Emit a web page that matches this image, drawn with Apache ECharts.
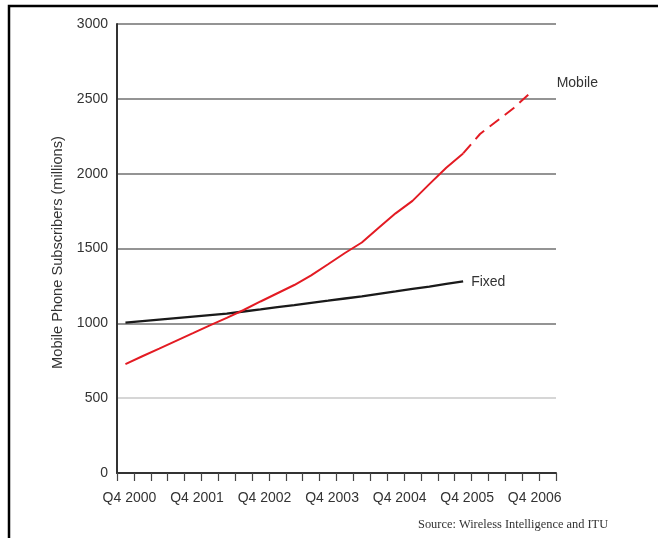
<!DOCTYPE html>
<html>
<head>
<meta charset="utf-8">
<script src="https://cdn.jsdelivr.net/npm/echarts@6/dist/echarts.min.js"></script>
<style>
html,body{margin:0;padding:0;background:#fff;}
#chart{width:658px;height:538px;}
</style>
</head>
<body>
<div id="chart"></div>
<script>
// Quarters (category axis)
const quarters = [
  'Q4 2000','Q1 2001','Q2 2001','Q3 2001',
  'Q4 2001','Q1 2002','Q2 2002','Q3 2002',
  'Q4 2002','Q1 2003','Q2 2003','Q3 2003',
  'Q4 2003','Q1 2004','Q2 2004','Q3 2004',
  'Q4 2004','Q1 2005','Q2 2005','Q3 2005',
  'Q4 2005','Q1 2006','Q2 2006','Q3 2006',
  'Q4 2006','Q1 2007'
];
// Mobile subscribers (millions) - actual
const mobileActual = [
  728, 780, 831, 883, 934, 986, 1037, 1089,
  1146, 1201, 1256, 1321, 1395, 1470, 1540, 1638,
  1735, 1818, 1930, 2040, 2135,
  null, null, null, null, null
];
// Mobile subscribers (millions) - projection (dashed)
const mobileProjected = [
  null, null, null, null, null, null, null, null,
  null, null, null, null, null, null, null, null,
  null, null, null, null, 2135,
  2265, 2352, 2439, 2542, null
];
// Fixed line subscribers (millions)
const fixedValues = [
  1005, 1015, 1025, 1035, 1045, 1055, 1065, 1079,
  1093, 1108, 1122, 1137, 1151, 1166, 1180, 1197,
  1213, 1230, 1246, 1263, 1280,
  null, null, null, null, null
];
const yAxisTitle = 'Mobile Phone Subscribers (millions)';
const sourceText = 'Source: Wireless Intelligence and ITU';

const chart = echarts.init(document.getElementById('chart'), null, {renderer: 'canvas'});
const font = 'Liberation Sans, Arial, Helvetica, sans-serif';
const red = '#e31b23';

chart.setOption({
  animation: false,
  backgroundColor: '#fff',
  title: {
    text: sourceText,
    left: 418, top: 519,
    padding: 0,
    textStyle: {fontFamily: 'Liberation Serif, Times New Roman, serif', fontSize: 12.4, fontWeight: 'normal', color: '#333'}
  },
  graphic: [
    {type: 'polyline', shape: {points: [[9, 540], [9, 6], [660, 6]]}, style: {stroke: '#000', lineWidth: 2.5, fill: null}, z: 100}
  ],
  grid: {left: 117, right: 102, top: 24, bottom: 65, containLabel: false},
  xAxis: {
    type: 'category',
    data: quarters,
    boundaryGap: true,
    axisLine: {lineStyle: {color: '#333', width: 2}},
    axisTick: {show: true, interval: 0, length: 8, lineStyle: {color: '#444', width: 1.2}},
    axisLabel: {interval: 3, margin: 18, fontFamily: font, fontSize: 14, color: '#333', padding: [0, 0, 0, 8]},
    splitLine: {show: false}
  },
  yAxis: {
    type: 'value',
    min: 0, max: 3000, interval: 500,
    name: yAxisTitle,
    nameLocation: 'middle',
    nameRotate: 90,
    nameGap: 50,
    nameTextStyle: {fontFamily: font, fontSize: 14.6, color: '#333', padding: [0, 8, 0, 0]},
    axisLine: {show: true, lineStyle: {color: '#333', width: 2}},
    axisTick: {show: false},
    axisLabel: {margin: 9, fontFamily: font, fontSize: 14, color: '#333', formatter: function (v) { return String(v); }},
    splitLine: {show: true, lineStyle: {color: ['#555', '#c8c8c8', '#707070', '#707070', '#707070', '#707070', '#707070'], width: 1.6}}
  },
  series: [
    {
      name: 'Fixed', type: 'line', data: fixedValues,
      showSymbol: false, symbol: 'none', smooth: false,
      lineStyle: {color: '#1a1a1a', width: 2.3},
      endLabel: {show: true, formatter: 'Fixed', distance: 0, offset: [8, 1], fontFamily: font, fontSize: 14, color: '#333'},
      z: 3
    },
    {
      name: 'Mobile', type: 'line', data: mobileActual,
      showSymbol: false, symbol: 'none',
      lineStyle: {color: red, width: 2},
      z: 4
    },
    {
      name: 'Mobile projected', type: 'line', data: mobileProjected,
      showSymbol: false, symbol: 'none',
      lineStyle: {color: red, width: 2, type: [12, 7]},
      endLabel: {show: true, formatter: 'Mobile', distance: 0, offset: [26, -9], fontFamily: font, fontSize: 14, color: '#333'},
      z: 4
    }
  ]
});
</script>
</body>
</html>
